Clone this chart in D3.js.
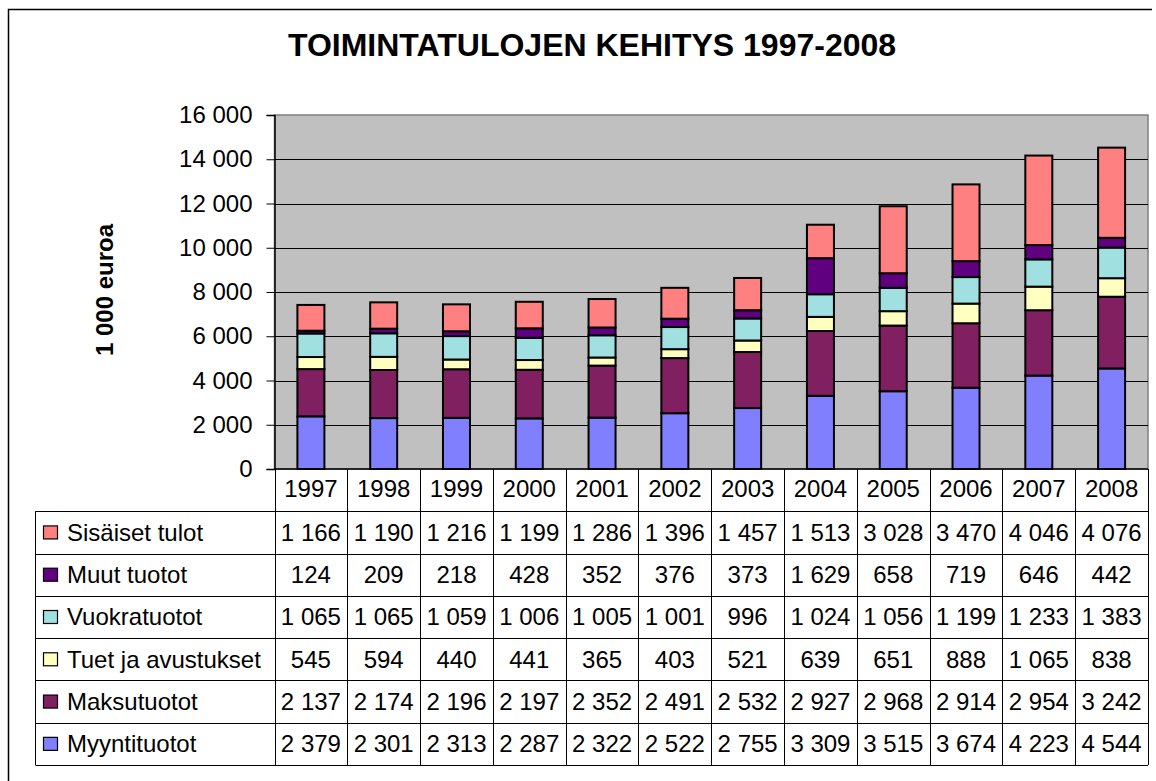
<!DOCTYPE html>
<html>
<head>
<meta charset="utf-8">
<script src="https://cdn.jsdelivr.net/npm/d3@7"></script>
<style>
  body { margin: 0; background: #fff; }
  svg { display: block; font-family: "Liberation Sans", Arial, sans-serif; }
</style>
</head>
<body>
<svg id="chart" width="1156" height="781"></svg>
<script>
// data
const years = ["1997","1998","1999","2000","2001","2002","2003","2004","2005","2006","2007","2008"];
const myyntituotot = [2379,2301,2313,2287,2322,2522,2755,3309,3515,3674,4223,4544];
const maksutuotot  = [2137,2174,2196,2197,2352,2491,2532,2927,2968,2914,2954,3242];
const tuet         = [545,594,440,441,365,403,521,639,651,888,1065,838];
const vuokratuotot = [1065,1065,1059,1006,1005,1001,996,1024,1056,1199,1233,1383];
const muutTuotot   = [124,209,218,428,352,376,373,1629,658,719,646,442];
const sisaiset     = [1166,1190,1216,1199,1286,1396,1457,1513,3028,3470,4046,4076];
const yTicks = [0,2000,4000,6000,8000,10000,12000,14000,16000];

// stack order bottom -> top
const series = [
  {name: "Myyntituotot", values: myyntituotot, color: "#8080FF"},
  {name: "Maksutuotot", values: maksutuotot, color: "#802060"},
  {name: "Tuet ja avustukset", values: tuet, color: "#FFFFC0"},
  {name: "Vuokratuotot", values: vuokratuotot, color: "#A0E0E0"},
  {name: "Muut tuotot", values: muutTuotot, color: "#600080"},
  {name: "Sisäiset tulot", values: sisaiset, color: "#FF8080"}
];

const fi = d3.formatLocale({decimal: ",", thousands: " ", grouping: [3], currency: ["", ""]});
const fmt = fi.format(",");

const svg = d3.select("#chart");
const plotL = 274.5, plotR = 1148, plotT = 115, plotB = 469;
const tableLeft = 35.5, tableBottom = 765;
const fs = 24;

// outer frame (top + left visible)
svg.append("path").attr("d", "M8.5,781V9.5H1152")
  .attr("fill", "none").attr("stroke", "#000").attr("stroke-width", 1.5);

svg.append("text").attr("x", 592).attr("y", 56).attr("text-anchor", "middle")
  .attr("font-size", 32).attr("font-weight", "bold")
  .text("TOIMINTATULOJEN KEHITYS 1997-2008");

const x = d3.scaleBand().domain(years).range([plotL, plotR]).padding(0);
const y = d3.scaleLinear().domain([0, 16000]).range([plotB, plotT]);

// plot area
svg.append("rect").attr("x", plotL).attr("y", plotT).attr("width", plotR - plotL).attr("height", plotB - plotT)
  .attr("fill", "#C0C0C0").attr("stroke", "#808080").attr("stroke-width", 1.5);

// grid lines
svg.append("g").selectAll("line").data(yTicks.filter(d => d > 0 && d < 16000)).join("line")
  .attr("x1", plotL).attr("x2", plotR)
  .attr("y1", d => Math.round(y(d)) + 0.5).attr("y2", d => Math.round(y(d)) + 0.5)
  .attr("stroke", "#000").attr("stroke-width", 1);

// y axis
const yAxis = svg.append("g").attr("transform", `translate(${plotL},0)`)
  .call(d3.axisLeft(y).tickValues(yTicks).tickFormat(fmt).tickSize(8).tickPadding(14));
yAxis.select(".domain").attr("stroke", "#000").attr("stroke-width", 1.5);
yAxis.selectAll(".tick line").attr("stroke", "#000");
yAxis.selectAll(".tick text").attr("font-size", fs).attr("fill", "#000")
  .attr("font-family", "Liberation Sans, Arial, sans-serif");

svg.append("text")
  .attr("transform", "translate(113,290) rotate(-90)")
  .attr("text-anchor", "middle").attr("font-size", 24).attr("font-weight", "bold")
  .text("1 000 euroa");

// stacked bars
const rows = years.map((yr, i) => {
  const r = {year: yr};
  series.forEach(s => r[s.name] = s.values[i]);
  return r;
});
const stack = d3.stack().keys(series.map(s => s.name))(rows);
const bw = 27;
svg.append("g").selectAll("g").data(stack).join("g")
  .attr("fill", (d, i) => series[i].color)
  .selectAll("rect").data(d => d).join("rect")
  .attr("x", d => x(d.data.year) + (x.bandwidth() - bw) / 2)
  .attr("y", d => y(d[1]))
  .attr("width", bw)
  .attr("height", d => y(d[0]) - y(d[1]))
  .attr("stroke", "#000").attr("stroke-width", 2);

// x axis line
svg.append("line").attr("x1", plotL).attr("x2", plotR).attr("y1", plotB).attr("y2", plotB)
  .attr("stroke", "#000").attr("stroke-width", 1.5);

// data table
const tableRows = series.slice().reverse();
const rowH = (tableBottom - plotB) / (tableRows.length + 1);
const tbl = svg.append("g");

// header row labels
tbl.selectAll("text.yr").data(years).join("text").attr("class", "yr")
  .attr("x", d => x(d) + x.bandwidth() / 2)
  .attr("y", plotB + rowH / 2 - 2).attr("dy", "0.35em")
  .attr("text-anchor", "middle").attr("font-size", fs).text(d => d);

// horizontal lines
const hy = d3.range(1, tableRows.length + 2).map(k => plotB + k * rowH);
tbl.selectAll("line.h").data(hy).join("line").attr("class", "h")
  .attr("x1", tableLeft).attr("x2", plotR)
  .attr("y1", d => Math.round(d) + 0.5).attr("y2", d => Math.round(d) + 0.5)
  .attr("stroke", "#000").attr("stroke-width", 1);

// vertical lines
const vx = years.map(yr => x(yr)).concat([plotR]);
tbl.selectAll("line.v").data(vx).join("line").attr("class", "v")
  .attr("x1", d => Math.round(d) + 0.5).attr("x2", d => Math.round(d) + 0.5)
  .attr("y1", plotB).attr("y2", tableBottom)
  .attr("stroke", "#000").attr("stroke-width", 1);
tbl.append("line").attr("x1", tableLeft).attr("x2", tableLeft)
  .attr("y1", plotB + rowH).attr("y2", tableBottom)
  .attr("stroke", "#000").attr("stroke-width", 1);

tableRows.forEach((s, k) => {
  const cy = plotB + (k + 1.5) * rowH;
  tbl.append("rect").attr("x", 43.5).attr("y", cy - 6.5).attr("width", 14).attr("height", 13)
    .attr("fill", s.color).attr("stroke", "#000").attr("stroke-width", 1.2);
  tbl.append("text").attr("x", 67).attr("y", cy).attr("dy", "0.35em")
    .attr("font-size", fs).text(s.name);
  tbl.selectAll(null).data(s.values).join("text")
    .attr("x", (d, i) => x(years[i]) + x.bandwidth() / 2)
    .attr("y", cy).attr("dy", "0.35em")
    .attr("text-anchor", "middle").attr("font-size", fs)
    .text(d => fmt(d));
});
</script>
</body>
</html>
